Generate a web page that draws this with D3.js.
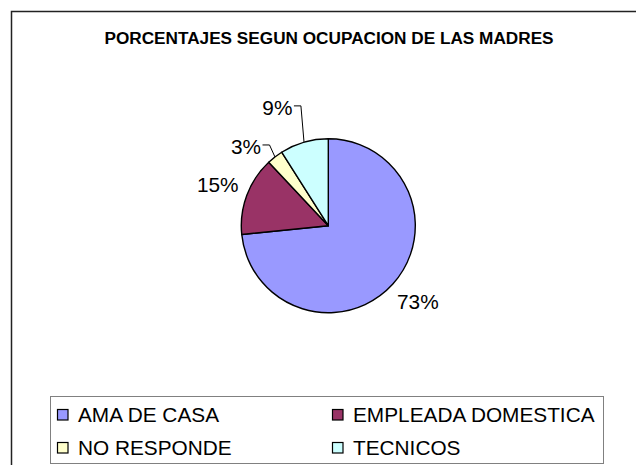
<!DOCTYPE html>
<html>
<head>
<meta charset="utf-8">
<script src="https://cdn.jsdelivr.net/npm/d3@7"></script>
<style>
  body { margin: 0; background: #fff; }
  svg { display: block; font-family: "Liberation Sans", Arial, sans-serif; }
</style>
</head>
<body>
<div id="chart"></div>
<script>
// data
var categories = ["AMA DE CASA", "EMPLEADA DOMESTICA", "NO RESPONDE", "TECNICOS"];
var values = [73.4, 14.6, 3.0, 9.0];
var colorList = ["#9999FF", "#993366", "#FFFFCC", "#CCFFFF"];
var title = "PORCENTAJES SEGUN OCUPACION DE LAS MADRES";

var width = 636, height = 465;
var cx = 328.3, cy = 225.7, radius = 87;

// small labels are pushed aside by excel and get a leader line
var labelNudge = [[2, -3], [0, 0], [-10, 14], [-18, -5]];
var leader = [false, false, true, true];

var svg = d3.select("#chart").append("svg")
    .attr("width", width)
    .attr("height", height);

// chart area border (runs off the right and bottom of the picture)
svg.append("rect")
    .attr("x", 11.5).attr("y", 11.5)
    .attr("width", 640).attr("height", 470)
    .attr("fill", "#fff")
    .attr("stroke", "#222")
    .attr("stroke-width", 1.5);

svg.append("text")
    .attr("x", 329).attr("y", 43.5)
    .attr("text-anchor", "middle")
    .attr("font-size", 17.2)
    .attr("font-weight", "bold")
    .attr("fill", "#000")
    .text(title);

var color = d3.scaleOrdinal().domain(categories).range(colorList);

var pie = d3.pie().sort(null).value(function (d) { return d.value; });
var data = categories.map(function (c, i) { return {name: c, value: values[i], i: i}; });
var arcs = pie(data);

var arc = d3.arc().innerRadius(0).outerRadius(radius);
var labelArc = d3.arc().innerRadius(118).outerRadius(118);
var edgeArc = d3.arc().innerRadius(radius).outerRadius(radius);

var g = svg.append("g").attr("transform", "translate(" + cx + "," + cy + ")");

g.selectAll("path.slice")
    .data(arcs)
    .enter()
    .append("path")
    .attr("class", "slice")
    .attr("d", arc)
    .attr("fill", function (d) { return color(d.data.name); })
    .attr("stroke", "#000")
    .attr("stroke-width", 1.4)
    .attr("stroke-linejoin", "round");

var total = d3.sum(values);
var fmt = d3.format(".0f");

var labels = g.selectAll("text.lbl")
    .data(arcs)
    .enter()
    .append("text")
    .attr("class", "lbl")
    .attr("font-size", 20.8)
    .attr("fill", "#000")
    .attr("text-anchor", "middle")
    .attr("x", function (d) { return labelArc.centroid(d)[0] + labelNudge[d.data.i][0]; })
    .attr("y", function (d) { return labelArc.centroid(d)[1] + labelNudge[d.data.i][1] + 7.5; })
    .text(function (d) { return fmt(d.data.value / total * 100) + "%"; });

// leader lines for the small slices
labels.each(function (d) {
    if (!leader[d.data.i]) return;
    var w = this.getComputedTextLength();
    var x0 = +this.getAttribute("x") + w / 2 + 1.5;
    var y0 = +this.getAttribute("y") - 9;
    var e = edgeArc.centroid(d);
    g.append("polyline")
        .attr("points", [[x0, y0], [x0 + 7, y0], e].map(function (p) { return p.join(","); }).join(" "))
        .attr("fill", "none")
        .attr("stroke", "#000")
        .attr("stroke-width", 1);
});

// legend
var legend = svg.append("g");
legend.append("rect")
    .attr("x", 50.5).attr("y", 396.5)
    .attr("width", 553).attr("height", 67)
    .attr("fill", "#fff")
    .attr("stroke", "#808080")
    .attr("stroke-width", 1);

var colX = [57, 332], rowY = [409, 442];

var item = legend.selectAll("g.item")
    .data(categories)
    .enter()
    .append("g")
    .attr("class", "item")
    .attr("transform", function (d, i) {
        return "translate(" + colX[i % 2] + "," + rowY[Math.floor(i / 2)] + ")";
    });

item.append("rect")
    .attr("x", 0.5).attr("y", 0.5)
    .attr("width", 10.5).attr("height", 10.5)
    .attr("fill", function (d) { return color(d); })
    .attr("stroke", "#000")
    .attr("stroke-width", 1.2);

item.append("text")
    .attr("x", 21)
    .attr("y", 12.8)
    .attr("font-size", 20.8)
    .attr("fill", "#000")
    .text(function (d) { return d; });
</script>
</body>
</html>
